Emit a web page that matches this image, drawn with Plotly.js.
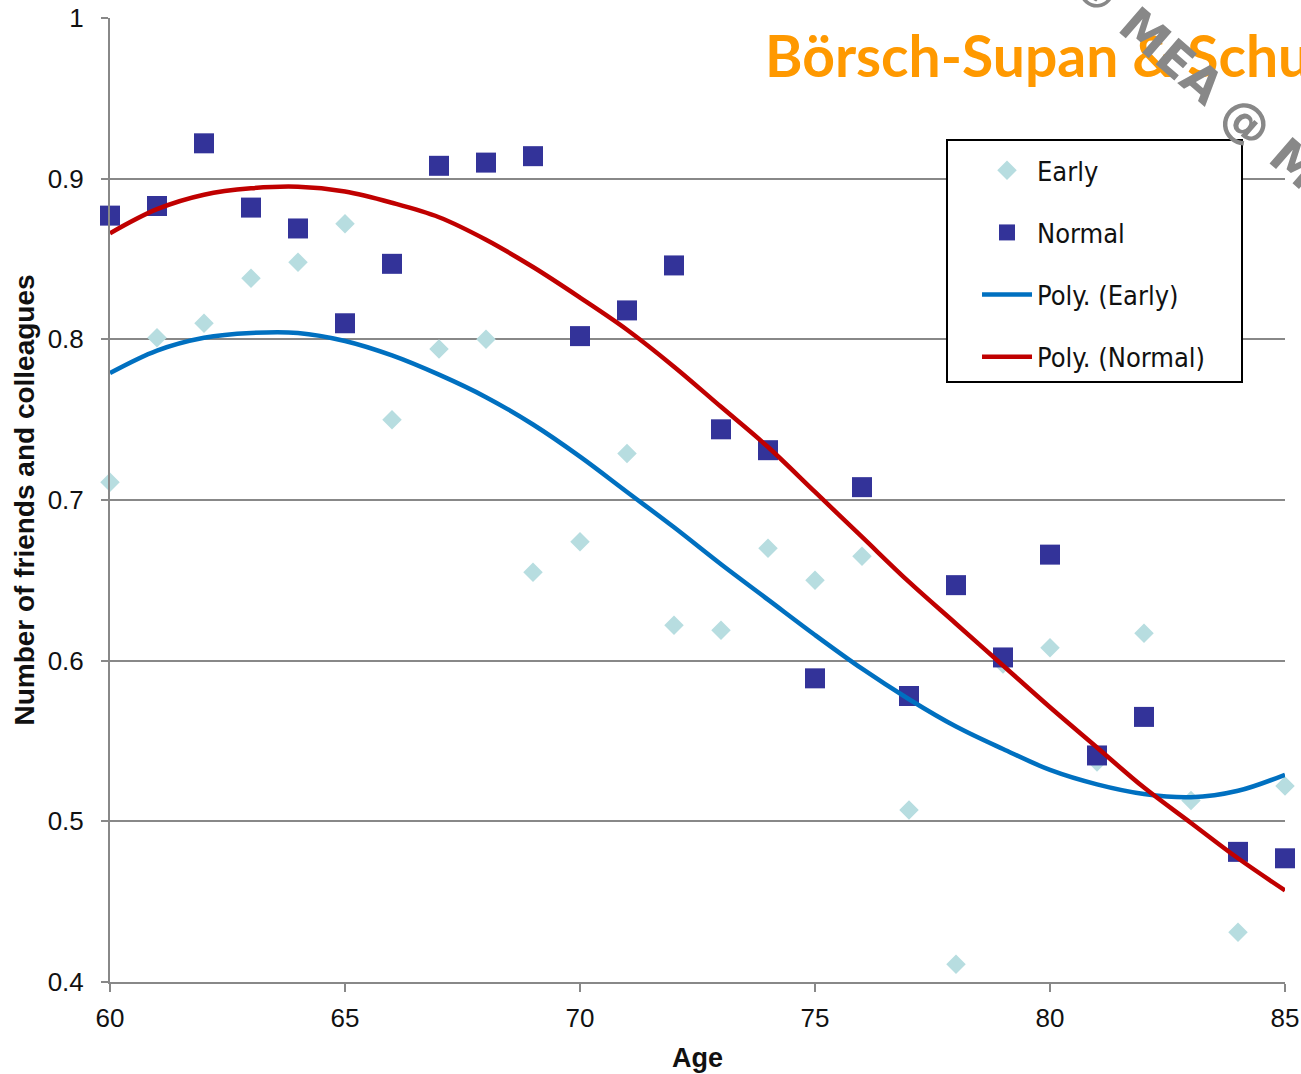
<!DOCTYPE html>
<html>
<head>
<meta charset="utf-8">
<script src="https://cdn.plot.ly/plotly-3.0.1.min.js"></script>
<style>
  html, body { margin: 0; padding: 0; background: #fff; overflow: hidden; }
  #plot { width: 1301px; height: 1074px; }
</style>
</head>
<body>
<div id="plot"></div>
<script>
const ages = [60, 61, 62, 63, 64, 65, 66, 67, 68, 69, 70, 71, 72, 73, 74, 75, 76, 77, 78, 79, 80, 81, 82, 83, 84, 85];
const earlyValues = [0.711, 0.801, 0.810, 0.838, 0.848, 0.872, 0.750, 0.794, 0.800, 0.655, 0.674, 0.729, 0.622, 0.619, 0.670, 0.650, 0.665, 0.507, 0.411, 0.598, 0.608, 0.537, 0.617, 0.513, 0.431, 0.522];
const normalValues = [0.877, 0.883, 0.922, 0.882, 0.869, 0.810, 0.847, 0.908, 0.910, 0.914, 0.802, 0.818, 0.846, 0.744, 0.731, 0.589, 0.708, 0.578, 0.647, 0.602, 0.666, 0.541, 0.565, null, 0.481, 0.477];
// trendline values at each age
const earlyTrend = [0.779, 0.793, 0.801, 0.804, 0.804, 0.799, 0.790, 0.778, 0.764, 0.747, 0.727, 0.705, 0.683, 0.660, 0.638, 0.616, 0.595, 0.576, 0.559, 0.545, 0.532, 0.523, 0.517, 0.515, 0.519, 0.529];
const normalTrend = [0.866, 0.881, 0.890, 0.894, 0.895, 0.892, 0.885, 0.876, 0.862, 0.845, 0.826, 0.806, 0.783, 0.758, 0.733, 0.705, 0.677, 0.649, 0.623, 0.597, 0.571, 0.546, 0.521, 0.499, 0.477, 0.457];
const seriesNames = ['Early', 'Normal', 'Poly. (Early)', 'Poly. (Normal)'];
const xTicks = [60, 65, 70, 75, 80, 85];
const yTicks = [0.4, 0.5, 0.6, 0.7, 0.8, 0.9, 1];

const narrow = 'Liberation Sans Narrow, Arial Narrow, Liberation Sans, sans-serif';
const pad = '\u00a0\u00a0\u00a0\u00a0';   // keeps the legend box as wide as the original

var early = {
    x: ages, y: earlyValues,
    mode: 'markers', type: 'scatter', name: seriesNames[0], legendgroup: 'a',
    cliponaxis: false,
    marker: { symbol: 'diamond', size: 15, color: '#b7dde0' }
};
var normal = {
    x: ages, y: normalValues,
    mode: 'markers', type: 'scatter', name: seriesNames[1], legendgroup: 'b',
    cliponaxis: false,
    marker: { symbol: 'square', size: 20, color: '#333399' }
};
var polyEarly = {
    x: ages, y: earlyTrend,
    mode: 'lines', type: 'scatter', name: seriesNames[2], legendgroup: 'c',
    line: { color: '#0070c0', width: 4.5, shape: 'spline', smoothing: 1 }
};
var polyNormal = {
    x: ages, y: normalTrend,
    mode: 'lines', type: 'scatter', name: seriesNames[3] + pad, legendgroup: 'd',
    line: { color: '#c00000', width: 4.5, shape: 'spline', smoothing: 1 }
};

var layout = {
    width: 1301,
    height: 1074,
    margin: { l: 110, r: 16, t: 18, b: 92, pad: 0 },
    paper_bgcolor: '#fff',
    plot_bgcolor: '#fff',
    showlegend: true,
    font: { family: 'Liberation Sans, sans-serif', color: '#111' },
    xaxis: {
        range: [60, 85],
        tickvals: xTicks,
        ticks: 'outside', ticklen: 8, tickwidth: 2, tickcolor: '#888',
        ticklabelstandoff: 4,
        showline: true, linecolor: '#888', linewidth: 2,
        showgrid: false, zeroline: false,
        tickfont: { family: narrow, size: 26, color: '#111' },
        title: { text: 'Age', font: { family: narrow, size: 27, weight: 'bold', color: '#111' }, standoff: 16 }
    },
    yaxis: {
        range: [0.4, 1],
        tickvals: yTicks,
        ticktext: ['0.4', '0.5', '0.6', '0.7', '0.8', '0.9', '1'],
        ticks: 'outside', ticklen: 7, tickwidth: 2, tickcolor: '#888',
        ticklabelstandoff: 12,
        showline: true, linecolor: '#888', linewidth: 2,
        showgrid: true, gridcolor: '#888', gridwidth: 2,
        zeroline: false,
        tickfont: { family: narrow, size: 26, color: '#111' },
        title: { text: 'Number of friends and colleagues', font: { family: 'Liberation Sans, sans-serif', size: 28, weight: 'bold', color: '#111' }, standoff: 5 }
    },
    legend: {
        x: 0.7115, y: 0.8744, xanchor: 'left', yanchor: 'top',
        bgcolor: '#fff', bordercolor: '#000', borderwidth: 2,
        font: { family: 'DejaVu Sans Condensed, DejaVu Sans, sans-serif', size: 27, color: '#111' },
        title: { text: ' ', font: { size: 4 } },
        tracegroupgap: 24,
        itemwidth: 50,
        indentation: 29
    },
    annotations: [
        {
            xref: 'paper', yref: 'paper', x: 0.556, y: 0.9616,
            xanchor: 'left', yanchor: 'middle', showarrow: false,
            text: 'Börsch-Supan &amp; Schuth',
            font: { family: 'Lato, Open Sans, sans-serif', size: 57, weight: 'bold', color: '#ff9900' }
        },
        {
            xref: 'paper', yref: 'paper', x: 0.9762, y: 0.8834,
            xanchor: 'center', yanchor: 'middle', showarrow: false,
            textangle: 41,
            text: '© MEA @ MPISOC',
            font: { family: 'DejaVu Sans, sans-serif', size: 48, weight: 'bold', color: '#888' }
        }
    ]
};

Plotly.newPlot('plot', [early, normal, polyEarly, polyNormal], layout, { displayModeBar: false, staticPlot: true });
</script>
</body>
</html>
